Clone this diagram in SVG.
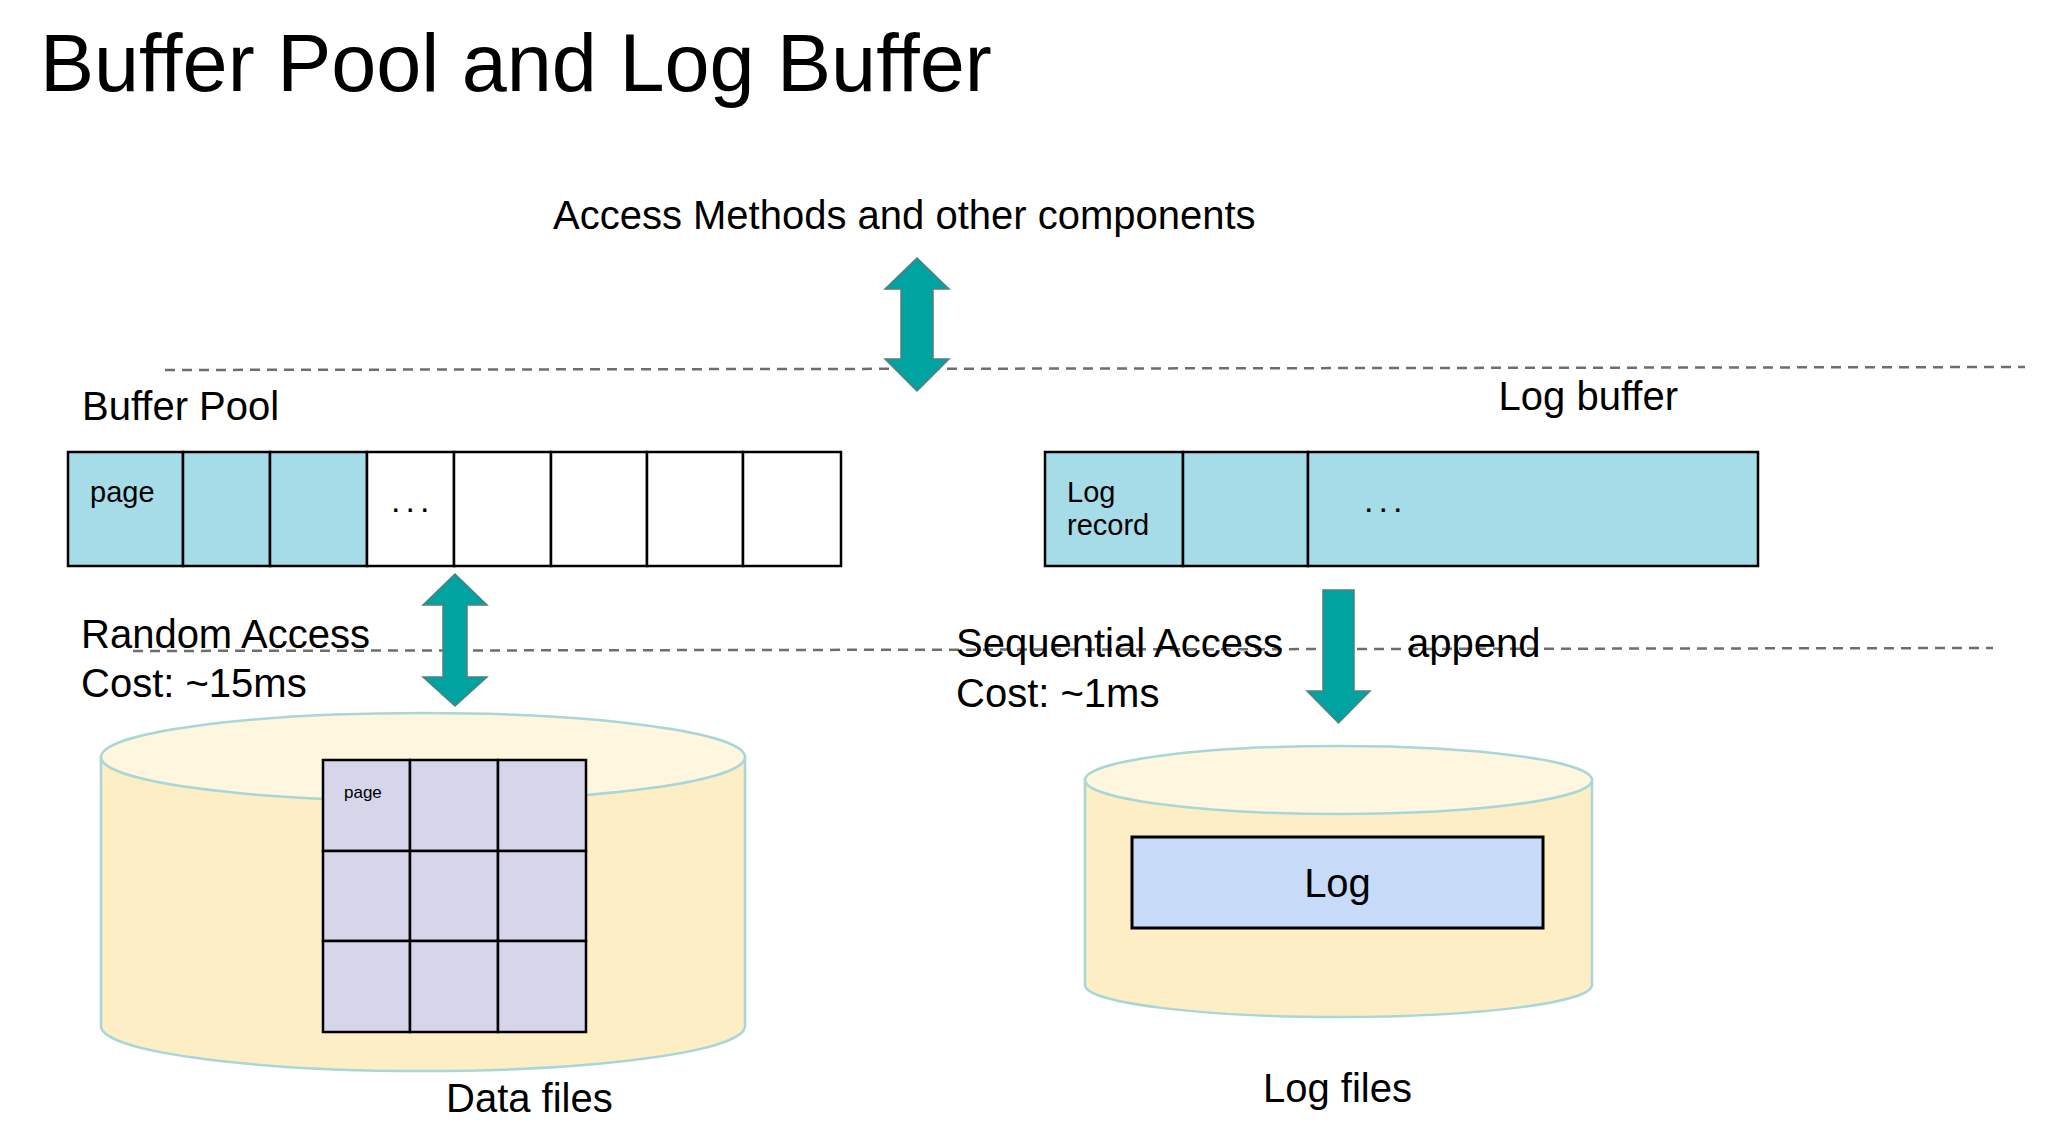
<svg xmlns="http://www.w3.org/2000/svg" width="2047" height="1136" viewBox="0 0 2047 1136">
  <style>
    text { font-family: "Liberation Sans", Arial, sans-serif; fill: #000; }
    .lbl { font-size: 40px; }
    .cell { stroke: #000; stroke-width: 2.5; }
    .blue { fill: #a6dbe8; }
    .white { fill: #ffffff; }
    .grid { fill: #d7d5ea; stroke: #000; stroke-width: 2.5; }
    .dash { stroke: #6e6e6e; stroke-width: 2.5; stroke-dasharray: 10 7; fill: none; }
    .arrow { fill: #00a3a0; stroke: #557f7f; stroke-width: 1.5; stroke-linejoin: miter; }
    .cylbody { fill: #fdeec6; stroke: #a9d6d6; stroke-width: 2.5; }
    .cyltop { fill: #fef6df; stroke: #a9d6d6; stroke-width: 2.5; }
    .dots { font-size: 34px; letter-spacing: 5px; }
  </style>
  <rect x="0" y="0" width="2047" height="1136" fill="#ffffff"/>

  <text id="title" x="40" y="91" font-size="81">Buffer Pool and Log Buffer</text>

  <g id="separators">
    <line class="dash" x1="165" y1="370" x2="2025" y2="367"/>
    <line class="dash" x1="133" y1="651" x2="1993" y2="648"/>
  </g>

  <g id="access-methods">
    <text class="lbl" x="553" y="229">Access Methods and other components</text>
  </g>

  <g id="buffer-pool">
    <text class="lbl" x="82" y="420">Buffer Pool</text>
    <rect class="cell blue" x="68" y="452" width="115" height="114"/>
    <rect class="cell blue" x="183" y="452" width="87" height="114"/>
    <rect class="cell blue" x="270" y="452" width="97" height="114"/>
    <rect class="cell white" x="367" y="452" width="87" height="114"/>
    <rect class="cell white" x="454" y="452" width="97" height="114"/>
    <rect class="cell white" x="551" y="452" width="96" height="114"/>
    <rect class="cell white" x="647" y="452" width="96" height="114"/>
    <rect class="cell white" x="743" y="452" width="98" height="114"/>
    <text x="90" y="502" font-size="29">page</text>
    <text class="dots" x="391" y="512">...</text>
  </g>

  <g id="log-buffer">
    <text class="lbl" x="1678" y="410" text-anchor="end">Log buffer</text>
    <rect class="cell blue" x="1045" y="452" width="138" height="114"/>
    <rect class="cell blue" x="1183" y="452" width="125" height="114"/>
    <rect class="cell blue" x="1308" y="452" width="450" height="114"/>
    <text x="1067" y="502" font-size="29">Log</text>
    <text x="1067" y="535" font-size="29">record</text>
    <text class="dots" x="1364" y="512">...</text>
  </g>

  <g id="random-access-label">
    <text class="lbl" x="81" y="648">Random Access</text>
    <text class="lbl" x="81" y="697">Cost: ~15ms</text>
  </g>

  <g id="sequential-access-label">
    <text class="lbl" x="956" y="657">Sequential Access</text>
    <text class="lbl" x="956" y="707">Cost: ~1ms</text>
    <text class="lbl" x="1407" y="657">append</text>
  </g>

  <g id="data-files">
    <path class="cylbody" d="M101,757 L101,1026 A322,45 0 0 0 745,1026 L745,757 Z"/>
    <ellipse class="cyltop" cx="423" cy="757" rx="322" ry="44"/>
    <rect class="grid" x="323" y="760" width="87" height="91"/>
    <rect class="grid" x="410" y="760" width="88" height="91"/>
    <rect class="grid" x="498" y="760" width="88" height="91"/>
    <rect class="grid" x="323" y="851" width="87" height="90"/>
    <rect class="grid" x="410" y="851" width="88" height="90"/>
    <rect class="grid" x="498" y="851" width="88" height="90"/>
    <rect class="grid" x="323" y="941" width="87" height="91"/>
    <rect class="grid" x="410" y="941" width="88" height="91"/>
    <rect class="grid" x="498" y="941" width="88" height="91"/>
    <text x="344" y="798" font-size="17">page</text>
    <text class="lbl" x="446" y="1112">Data files</text>
  </g>

  <g id="log-files">
    <path class="cylbody" d="M1085,780 L1085,985 A253.5,32 0 0 0 1592,985 L1592,780 Z"/>
    <ellipse class="cyltop" cx="1338.5" cy="780" rx="253.5" ry="34"/>
    <rect x="1132" y="837" width="411" height="91" fill="#c7daf7" stroke="#000" stroke-width="3"/>
    <text class="lbl" x="1337.5" y="897" text-anchor="middle">Log</text>
    <text class="lbl" x="1263" y="1102">Log files</text>
  </g>

  <g id="connectors">
    <polygon class="arrow" points="917,258 949,289 933,289 933,359 949,359 917,391 885,359 901,359 901,289 885,289"/>
    <polygon class="arrow" points="455,574 487,605 467,605 467,677 487,677 455,706 423,677 443,677 443,605 423,605"/>
    <polygon class="arrow" points="1323,590 1354,590 1354,691 1370,691 1338.5,723 1307,691 1323,691"/>
  </g>
</svg>
